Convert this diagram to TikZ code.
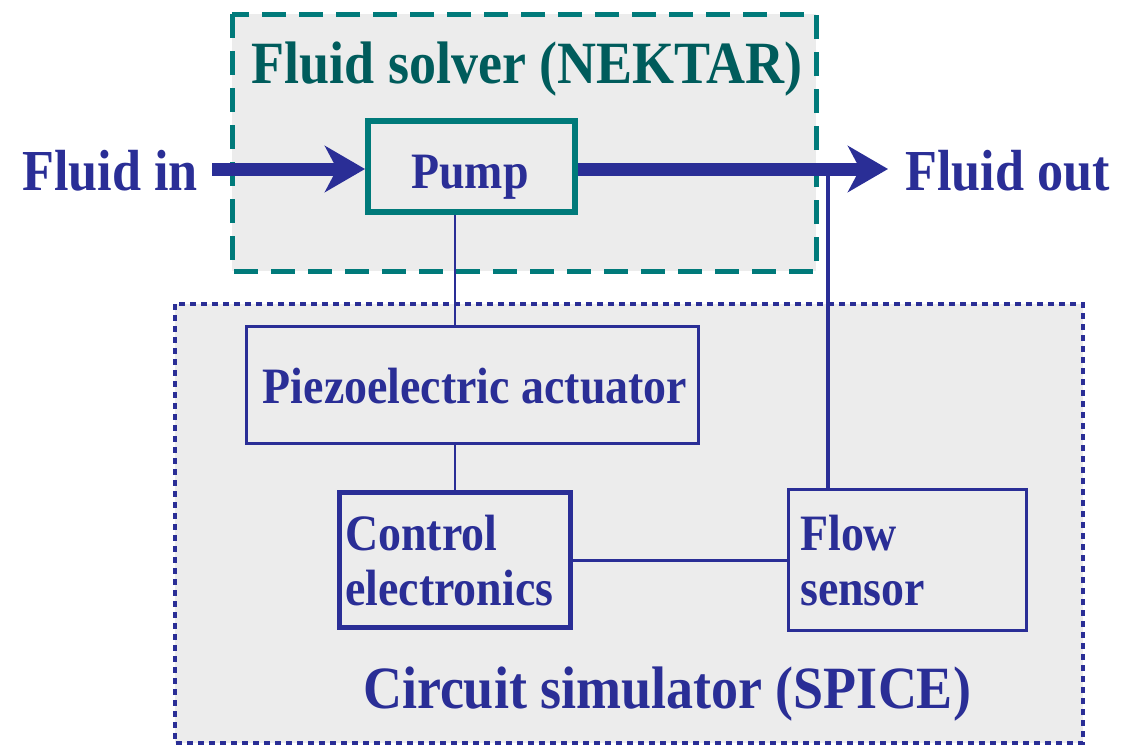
\documentclass[tikz,border=0pt]{standalone}
\usepackage{fontspec}
\setmainfont{Liberation Serif}
\newfontfamily\condfont[FakeStretch=0.9]{Liberation Serif}
\usetikzlibrary{arrows.meta,calc}
\definecolor{dblue}{RGB}{42,46,150}
\definecolor{teal1}{RGB}{0,122,122}
\definecolor{teal2}{RGB}{0,92,92}
\definecolor{bgray}{RGB}{236,236,236}
\begin{document}
\begin{tikzpicture}[x=1pt,y=-1pt,
  lbl/.style={inner sep=0pt,font=\condfont\bfseries\fontsize{58}{62}\selectfont,text=dblue},
  boxtxt/.style={inner sep=0pt,font=\condfont\bfseries\fontsize{51}{55}\selectfont,text=dblue},
  ttl/.style={inner sep=0pt,anchor=base,font=\condfont\bfseries\fontsize{60}{64}\selectfont},
  blk/.style={draw=dblue,line width=2.5pt,inner sep=0pt},
  wire/.style={draw=dblue,line width=2.5pt},
  flow/.style={draw=dblue,line width=13pt},
  bigarrow/.style={-{Stealth[length=40pt,width=46pt,inset=12pt]}}
]
\useasboundingbox (0,0) rectangle (1124,748);
% region boxes
\path[fill=bgray,draw=teal1,line width=5pt,dash pattern=on 24pt off 13pt] (232,14) rectangle (816,271);
\path[fill=bgray,draw=dblue,line width=4.5pt,dash pattern=on 6pt off 5pt] (175,304) rectangle (1083,743);
\node[ttl,text=teal2] (ftitle) at (527,83) {Fluid solver (NEKTAR)};
\node[ttl,text=dblue] (ctitle) at (667,708) {Circuit simulator (SPICE)};
% blocks
\node[draw=teal1,line width=6pt,minimum width=207pt,minimum height=91pt,inner sep=0pt] (pump) at (471.5,166.5) {};
\node[boxtxt,anchor=base] (pumpt) at (470,188) {Pump};
\node[blk,minimum width=452pt,minimum height=117pt] (piezo) at (472.5,385) {};
\node[boxtxt,anchor=base] (piezot) at (475,403) {Piezoelectric actuator};
\node[blk,line width=5pt,minimum width=231pt,minimum height=135pt] (ctrl) at (455,560) {};
\node[boxtxt,anchor=base west] (ctrlt1) at (345,550) {Control};
\node[boxtxt,anchor=base west] (ctrlt2) at (345,605) {electronics};
\node[blk,minimum width=238pt,minimum height=141pt] (fsens) at (907.5,560) {};
\node[boxtxt,anchor=base west] (fsenst1) at (800,550) {Flow};
\node[boxtxt,anchor=base west] (fsenst2) at (800,605) {sensor};
% labels
\node[lbl,anchor=base east] (fin) at (198,190) {Fluid in};
\node[lbl,anchor=base west] (fout) at (905,190) {Fluid out};
% connectors
\coordinate (inStart) at (212,169);
\coordinate (outEnd) at (888,169);
\draw[flow,bigarrow] (inStart) -- (inStart -| pump.west);
\draw[flow,bigarrow] (pump.east |- outEnd) -- (outEnd);
\coordinate (tapBot) at ($(fsens.north west)+(41,0)$);
\coordinate (tapTop) at (tapBot |- outEnd);
\draw[wire,line width=4pt] (tapTop) -- (tapBot);
\draw[wire] (ctrl.north |- pump.south) -- (ctrl.north |- piezo.north);
\draw[wire] (ctrl.north |- piezo.south) -- (ctrl.north);
\draw[wire,line width=3pt] (ctrl.east) -- (fsens.west |- ctrl.east);
\end{tikzpicture}
\end{document}
